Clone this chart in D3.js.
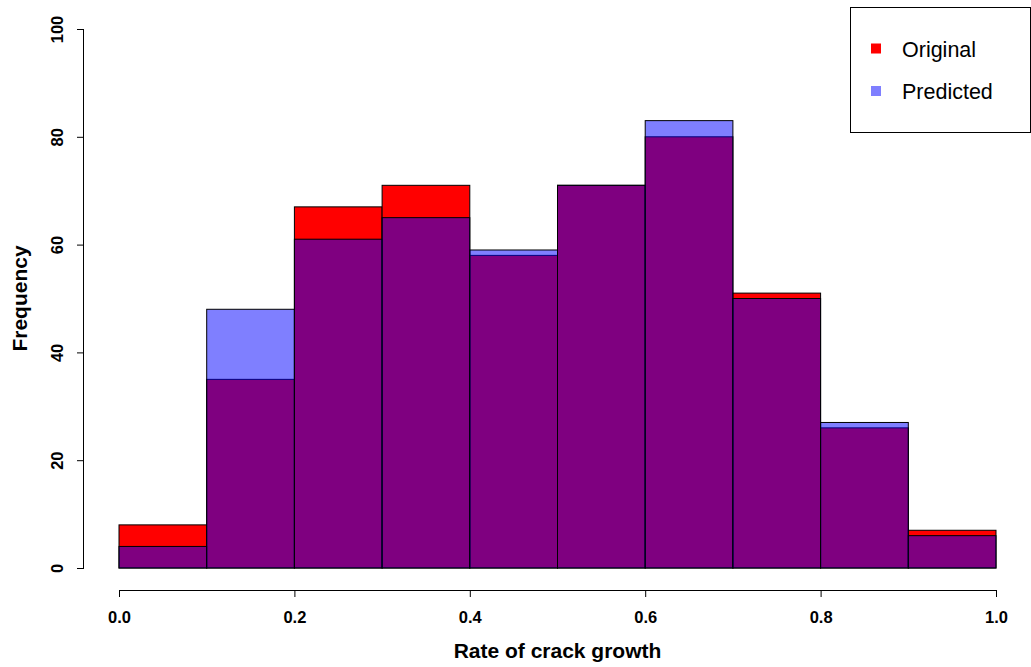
<!DOCTYPE html>
<html>
<head>
<meta charset="utf-8">
<script src="https://cdn.jsdelivr.net/npm/d3@7"></script>
<style>
  body { margin: 0; background: #fff; }
  svg { display: block; font-family: "Liberation Sans", Arial, sans-serif; }
</style>
</head>
<body>
<svg id="chart" width="1031" height="667"></svg>
<script>
// Histogram bins (left edges) and counts for the two series
const binEdges = [0.0, 0.1, 0.2, 0.3, 0.4, 0.5, 0.6, 0.7, 0.8, 0.9, 1.0];
const originalCounts = [8, 35, 67, 71, 58, 71, 80, 51, 26, 7];
const predictedCounts = [4, 48, 61, 65, 59, 71, 83, 50, 27, 6];
const xTicks = [0.0, 0.2, 0.4, 0.6, 0.8, 1.0];
const yTicks = [0, 20, 40, 60, 80, 100];
const seriesNames = ["Original", "Predicted"];
const seriesColors = ["#ff0000", "rgba(0,0,255,0.5)"];

const svg = d3.select("#chart");
const x = d3.scaleLinear().domain([0, 1]).range([119, 996]);
const y = d3.scaleLinear().domain([0, 100]).range([568, 29]);

function drawBars(counts, color) {
  svg.append("g").selectAll("rect")
    .data(counts)
    .join("rect")
    .attr("x", (d, i) => x(binEdges[i]))
    .attr("width", (d, i) => x(binEdges[i + 1]) - x(binEdges[i]))
    .attr("y", d => y(d))
    .attr("height", d => y(0) - y(d))
    .attr("fill", color)
    .attr("stroke", "#000")
    .attr("stroke-width", 1);
}
drawBars(originalCounts, seriesColors[0]);
drawBars(predictedCounts, seriesColors[1]);

const tickFont = 16.5;

// X axis
const xAxis = svg.append("g").attr("transform", "translate(0,590)")
  .call(d3.axisBottom(x).tickValues(xTicks).tickFormat(d3.format(".1f")).tickSizeOuter(0).tickSize(7));
xAxis.select(".domain").attr("stroke", "#000").attr("d", `M${x(0)},0.5H${x(1)}`);
xAxis.selectAll(".tick line").attr("stroke", "#000");
xAxis.selectAll(".tick text")
  .attr("y", 33).attr("dy", null)
  .attr("font-size", tickFont).attr("font-weight", "bold").attr("fill", "#000")
  .attr("font-family", "Liberation Sans, Arial, sans-serif");

// Y axis
const yAxis = svg.append("g").attr("transform", "translate(84,0)")
  .call(d3.axisLeft(y).tickValues(yTicks).tickSizeOuter(0).tickSize(7));
yAxis.select(".domain").attr("stroke", "#000").attr("d", `M-0.5,${y(0)}V${y(100)}`);
yAxis.selectAll(".tick line").attr("stroke", "#000");
yAxis.selectAll(".tick text")
  .attr("x", null).attr("dy", null)
  .attr("transform", "translate(-21,0) rotate(-90)")
  .attr("text-anchor", "middle")
  .attr("font-size", tickFont).attr("font-weight", "bold").attr("fill", "#000")
  .attr("font-family", "Liberation Sans, Arial, sans-serif");

// Axis titles
svg.append("text")
  .attr("x", x(0.5)).attr("y", 658)
  .attr("text-anchor", "middle")
  .attr("font-size", 21).attr("font-weight", "bold")
  .text("Rate of crack growth");
svg.append("text")
  .attr("transform", `translate(27,${y(50)}) rotate(-90)`)
  .attr("text-anchor", "middle")
  .attr("font-size", 21).attr("font-weight", "bold")
  .text("Frequency");

// Legend
const legend = svg.append("g");
legend.append("rect")
  .attr("x", 850.5).attr("y", 7.5).attr("width", 180).attr("height", 125)
  .attr("fill", "#fff").attr("stroke", "#000");
seriesNames.forEach((name, i) => {
  const cy = 48.5 + i * 42.5;
  legend.append("rect")
    .attr("x", 871).attr("y", cy - 5).attr("width", 10).attr("height", 10)
    .attr("fill", seriesColors[i]);
  legend.append("text")
    .attr("x", 902).attr("y", cy + 8)
    .attr("font-size", 21.5)
    .text(name);
});
</script>
</body>
</html>
